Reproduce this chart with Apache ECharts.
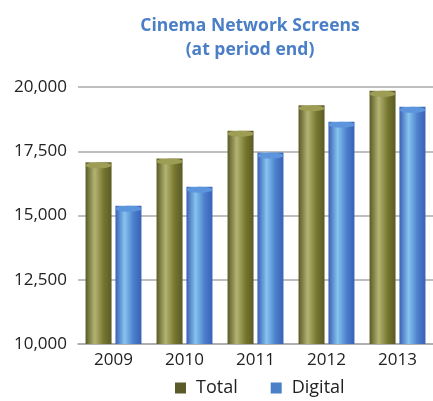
<!DOCTYPE html>
<html>
<head>
<meta charset="utf-8">
<script src="https://cdn.jsdelivr.net/npm/echarts@6/dist/echarts.min.js"></script>
<style>
  html, body { margin: 0; padding: 0; background: #fff; }
  #chart { width: 433px; height: 401px; }
</style>
</head>
<body>
<div id="chart"></div>
<script>
const years = ['2009', '2010', '2011', '2012', '2013']
const totalScreens = [17070, 17220, 18300, 19290, 19850]
const digitalScreens = [15380, 16120, 17450, 18650, 19230]
const yTicks = { min: 10000, max: 20000, step: 2500 }

const font = '"Open Sans", "Noto Sans", sans-serif'

function cylinder(dark, light, edge) {
  return {
    type: 'linear', x: 0, y: 0, x2: 1, y2: 0,
    colorStops: [
      { offset: 0, color: edge },
      { offset: 0.35, color: light },
      { offset: 0.7, color: dark },
      { offset: 1, color: edge }
    ]
  }
}

const olive = cylinder('#76762f', '#b3b472', '#5a5a26')
const blue = cylinder('#4b7fcc', '#86c3ee', '#3a60b6')

const chart = echarts.init(document.getElementById('chart'))
chart.setOption({
  animation: false,
  title: {
    text: 'Cinema Network Screens\n(at period end)',
    left: 245,
    top: 9,
    textAlign: 'center',
    textStyle: {
      color: '#4a7fc8',
      fontFamily: font,
      fontWeight: 'bold',
      fontSize: 17.5,
      lineHeight: 24
    }
  },
  legend: {
    bottom: -1,
    left: 170,
    icon: 'rect',
    itemWidth: 11,
    itemHeight: 11,
    itemGap: 33,
    textStyle: { color: '#222', fontFamily: font, fontSize: 18, padding: [0, 0, 0, 5] },
    data: [
      { name: 'Total', itemStyle: { color: '#5b5b2a' } },
      { name: 'Digital', itemStyle: { color: '#4a80c8' } }
    ]
  },
  grid: { left: 78, right: -6, top: 87, bottom: 57 },
  xAxis: {
    type: 'category',
    data: years,
    axisLine: { lineStyle: { color: '#aaa', width: 1.5 } },
    axisTick: { show: false },
    axisLabel: { color: '#222', fontFamily: font, fontSize: 17, margin: 8 }
  },
  yAxis: {
    type: 'value',
    min: yTicks.min,
    max: yTicks.max,
    interval: yTicks.step,
    axisLine: { show: false },
    axisTick: { show: false },
    splitLine: { lineStyle: { color: '#aaa', width: 1.5 } },
    axisLabel: {
      color: '#222',
      fontFamily: font,
      fontSize: 17,
      margin: 11,
      formatter: v => v.toLocaleString('en-US')
    }
  },
  series: [
    {
      name: 'Total', type: 'bar', data: totalScreens,
      barWidth: 26, barGap: '15%',
      itemStyle: { color: olive }
    },
    {
      name: 'Digital', type: 'bar', data: digitalScreens,
      barWidth: 26,
      itemStyle: { color: blue }
    },
    {
      name: 'Total cap', type: 'pictorialBar', data: totalScreens,
      symbol: 'circle', symbolSize: [26, 6], symbolPosition: 'end',
      symbolOffset: [-15, 0], z: 3,
      itemStyle: { color: '#9d9d55' }
    },
    {
      name: 'Digital cap', type: 'pictorialBar', data: digitalScreens,
      symbol: 'circle', symbolSize: [26, 6], symbolPosition: 'end',
      symbolOffset: [15, 0], z: 3,
      itemStyle: { color: '#5d95dc' }
    }
  ]
})
</script>
</body>
</html>
